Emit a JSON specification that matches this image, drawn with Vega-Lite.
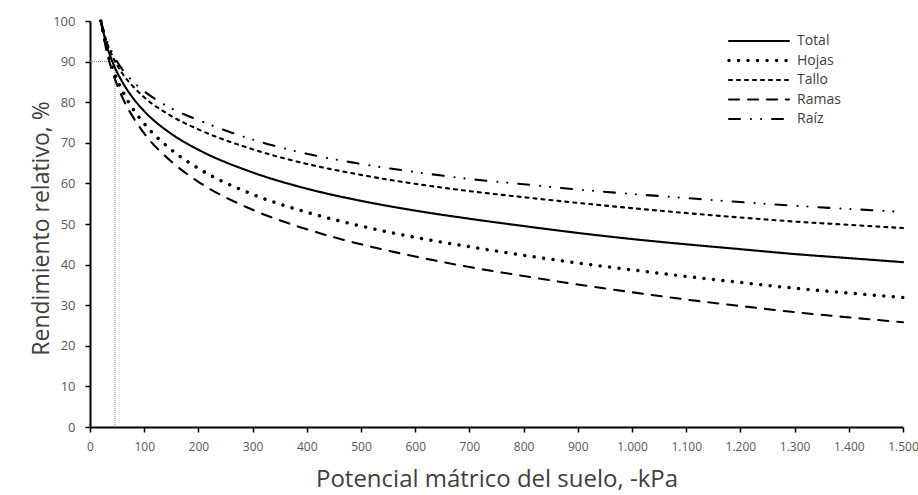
{
  "$schema": "https://vega.github.io/schema/vega-lite/v6.json",
  "width": 813,
  "height": 406,
  "autosize": {"type": "none"},
  "padding": {"left": 90, "top": 21, "right": 15, "bottom": 68},
  "background": "white",
  "config": {
    "view": {"stroke": null},
    "font": "Open Sans",
    "axis": {
      "grid": false,
      "domainColor": "black",
      "domainWidth": 2,
      "tickColor": "black",
      "tickWidth": 1.5,
      "tickSize": 5,
      "labelColor": "#595959",
      "labelFontSize": 13,
      "labelFont": "Open Sans",
      "titleColor": "#404040",
      "titleFont": "Open Sans",
      "titleFontWeight": "normal"
    }
  },
  "datasets": {
    "ref": [{"kPa": 46, "rend": 90, "kPa0": 0, "rend0": 0}],
    "curves": [
      {"serie": "Total", "kPa": 20, "rend": 100}, {"serie": "Total", "kPa": 30, "rend": 94.4}, {"serie": "Total", "kPa": 45, "rend": 88.8}, {"serie": "Total", "kPa": 60, "rend": 84.9}, {"serie": "Total", "kPa": 80, "rend": 80.9}, {"serie": "Total", "kPa": 100, "rend": 77.8}, {"serie": "Total", "kPa": 150, "rend": 72.2}, {"serie": "Total", "kPa": 200, "rend": 68.3}, {"serie": "Total", "kPa": 300, "rend": 62.7}, {"serie": "Total", "kPa": 400, "rend": 58.7}, {"serie": "Total", "kPa": 500, "rend": 55.7}, {"serie": "Total", "kPa": 600, "rend": 53.3}, {"serie": "Total", "kPa": 700, "rend": 51.3}, {"serie": "Total", "kPa": 800, "rend": 49.5}, {"serie": "Total", "kPa": 900, "rend": 47.8}, {"serie": "Total", "kPa": 1000, "rend": 46.3}, {"serie": "Total", "kPa": 1100, "rend": 45.0}, {"serie": "Total", "kPa": 1200, "rend": 43.8}, {"serie": "Total", "kPa": 1300, "rend": 42.6}, {"serie": "Total", "kPa": 1400, "rend": 41.6}, {"serie": "Total", "kPa": 1500, "rend": 40.6},
      {"serie": "Hojas", "kPa": 20, "rend": 100}, {"serie": "Hojas", "kPa": 30, "rend": 93.6}, {"serie": "Hojas", "kPa": 45, "rend": 87.2}, {"serie": "Hojas", "kPa": 60, "rend": 82.7}, {"serie": "Hojas", "kPa": 80, "rend": 78.2}, {"serie": "Hojas", "kPa": 100, "rend": 74.7}, {"serie": "Hojas", "kPa": 150, "rend": 68.3}, {"serie": "Hojas", "kPa": 200, "rend": 63.7}, {"serie": "Hojas", "kPa": 300, "rend": 57.3}, {"serie": "Hojas", "kPa": 400, "rend": 52.9}, {"serie": "Hojas", "kPa": 500, "rend": 49.5}, {"serie": "Hojas", "kPa": 600, "rend": 46.7}, {"serie": "Hojas", "kPa": 700, "rend": 44.4}, {"serie": "Hojas", "kPa": 800, "rend": 42.3}, {"serie": "Hojas", "kPa": 900, "rend": 40.4}, {"serie": "Hojas", "kPa": 1000, "rend": 38.7}, {"serie": "Hojas", "kPa": 1100, "rend": 37.1}, {"serie": "Hojas", "kPa": 1200, "rend": 35.6}, {"serie": "Hojas", "kPa": 1300, "rend": 34.2}, {"serie": "Hojas", "kPa": 1400, "rend": 33.0}, {"serie": "Hojas", "kPa": 1500, "rend": 31.9},
      {"serie": "Tallo", "kPa": 20, "rend": 100}, {"serie": "Tallo", "kPa": 30, "rend": 95.2}, {"serie": "Tallo", "kPa": 45, "rend": 90.4}, {"serie": "Tallo", "kPa": 60, "rend": 87.0}, {"serie": "Tallo", "kPa": 80, "rend": 83.8}, {"serie": "Tallo", "kPa": 100, "rend": 81.2}, {"serie": "Tallo", "kPa": 150, "rend": 76.6}, {"serie": "Tallo", "kPa": 200, "rend": 73.3}, {"serie": "Tallo", "kPa": 300, "rend": 68.4}, {"serie": "Tallo", "kPa": 400, "rend": 64.8}, {"serie": "Tallo", "kPa": 500, "rend": 62.1}, {"serie": "Tallo", "kPa": 600, "rend": 59.9}, {"serie": "Tallo", "kPa": 700, "rend": 58.1}, {"serie": "Tallo", "kPa": 800, "rend": 56.6}, {"serie": "Tallo", "kPa": 900, "rend": 55.2}, {"serie": "Tallo", "kPa": 1000, "rend": 53.9}, {"serie": "Tallo", "kPa": 1100, "rend": 52.7}, {"serie": "Tallo", "kPa": 1200, "rend": 51.6}, {"serie": "Tallo", "kPa": 1300, "rend": 50.6}, {"serie": "Tallo", "kPa": 1400, "rend": 49.8}, {"serie": "Tallo", "kPa": 1500, "rend": 49.0},
      {"serie": "Ramas", "kPa": 20, "rend": 100}, {"serie": "Ramas", "kPa": 30, "rend": 93.0}, {"serie": "Ramas", "kPa": 45, "rend": 86.1}, {"serie": "Ramas", "kPa": 60, "rend": 81.1}, {"serie": "Ramas", "kPa": 80, "rend": 76.2}, {"serie": "Ramas", "kPa": 100, "rend": 72.3}, {"serie": "Ramas", "kPa": 150, "rend": 65.4}, {"serie": "Ramas", "kPa": 200, "rend": 60.4}, {"serie": "Ramas", "kPa": 300, "rend": 53.5}, {"serie": "Ramas", "kPa": 400, "rend": 48.7}, {"serie": "Ramas", "kPa": 500, "rend": 45.0}, {"serie": "Ramas", "kPa": 600, "rend": 42.0}, {"serie": "Ramas", "kPa": 700, "rend": 39.4}, {"serie": "Ramas", "kPa": 800, "rend": 37.2}, {"serie": "Ramas", "kPa": 900, "rend": 35.1}, {"serie": "Ramas", "kPa": 1000, "rend": 33.2}, {"serie": "Ramas", "kPa": 1100, "rend": 31.4}, {"serie": "Ramas", "kPa": 1200, "rend": 29.8}, {"serie": "Ramas", "kPa": 1300, "rend": 28.3}, {"serie": "Ramas", "kPa": 1400, "rend": 27.0}, {"serie": "Ramas", "kPa": 1500, "rend": 25.8},
      {"serie": "Raíz", "kPa": 20, "rend": 100}, {"serie": "Raíz", "kPa": 30, "rend": 95.6}, {"serie": "Raíz", "kPa": 45, "rend": 91.2}, {"serie": "Raíz", "kPa": 60, "rend": 88.0}, {"serie": "Raíz", "kPa": 80, "rend": 85.0}, {"serie": "Raíz", "kPa": 100, "rend": 82.7}, {"serie": "Raíz", "kPa": 150, "rend": 78.5}, {"serie": "Raíz", "kPa": 200, "rend": 75.6}, {"serie": "Raíz", "kPa": 300, "rend": 70.8}, {"serie": "Raíz", "kPa": 400, "rend": 67.3}, {"serie": "Raíz", "kPa": 500, "rend": 64.8}, {"serie": "Raíz", "kPa": 600, "rend": 62.8}, {"serie": "Raíz", "kPa": 700, "rend": 61.1}, {"serie": "Raíz", "kPa": 800, "rend": 59.8}, {"serie": "Raíz", "kPa": 900, "rend": 58.5}, {"serie": "Raíz", "kPa": 1000, "rend": 57.4}, {"serie": "Raíz", "kPa": 1100, "rend": 56.4}, {"serie": "Raíz", "kPa": 1200, "rend": 55.4}, {"serie": "Raíz", "kPa": 1300, "rend": 54.5}, {"serie": "Raíz", "kPa": 1400, "rend": 53.7}, {"serie": "Raíz", "kPa": 1500, "rend": 53.0}
    ]
  },
  "layer": [
    {
      "data": {"name": "ref"},
      "mark": {"type": "rule", "color": "#7f7f7f", "strokeWidth": 1, "strokeDash": [1, 1]},
      "encoding": {
        "x": {"field": "kPa", "type": "quantitative"},
        "y": {"field": "rend0", "type": "quantitative"},
        "y2": {"field": "rend"}
      }
    },
    {
      "data": {"name": "ref"},
      "mark": {"type": "rule", "color": "#7f7f7f", "strokeWidth": 1, "strokeDash": [1, 1]},
      "encoding": {
        "y": {"field": "rend", "type": "quantitative"},
        "x": {"field": "kPa0", "type": "quantitative"},
        "x2": {"field": "kPa"}
      }
    },
    {
      "data": {"name": "curves"},
      "mark": {"type": "line", "interpolate": "monotone", "strokeCap": "round", "color": "black"},
      "encoding": {
        "x": {
          "field": "kPa", "type": "quantitative",
          "scale": {"domain": [0, 1500], "nice": false},
          "axis": {
            "title": "Potencial mátrico del suelo, -kPa",
            "titleFontSize": 24,
            "titleBaseline": "alphabetic",
            "titleY": 59,
            "values": [0, 100, 200, 300, 400, 500, 600, 700, 800, 900, 1000, 1100, 1200, 1300, 1400, 1500],
            "labelExpr": "replace(format(datum.value, ','), ',', '.')",
            "labelFontSize": 12,
            "labelPadding": 9,
            "labelFlush": false
          }
        },
        "y": {
          "field": "rend", "type": "quantitative",
          "scale": {"domain": [0, 100], "nice": false},
          "axis": {
            "title": "Rendimiento relativo, %",
            "titleFontSize": 23,
            "titleX": -42,
            "titleY": 207,
            "titleBaseline": "alphabetic",
            "values": [0, 10, 20, 30, 40, 50, 60, 70, 80, 90, 100],
            "tickSize": 5,
            "labelPadding": 10
          }
        },
        "strokeWidth": {
          "condition": {"test": "datum.serie === 'Hojas'", "value": 3.5},
          "value": 2.1
        },
        "strokeDash": {
          "field": "serie", "type": "nominal",
          "scale": {
            "domain": ["Total", "Hojas", "Tallo", "Ramas", "Raíz"],
            "range": [[1, 0], [0.01, 9.5], [3, 5], [10, 9], [11, 11, 0.01, 10, 0.01, 11]]
          },
          "legend": {
            "title": null, "orient": "none", "legendX": 662, "legendY": 13,
            "symbolType": "M-6,0H6", "symbolSize": 100, "symbolStrokeColor": "black",
            "labelFontSize": 14, "labelColor": "#404040", "labelFont": "Open Sans",
            "rowPadding": 5.5, "labelOffset": 31, "padding": 0,
            "encode": {
              "symbols": {
                "update": {
                  "strokeCap": {"value": "round"},
                  "strokeWidth": {"signal": "datum.value === 'Hojas' ? 3.5 : 2.1"}
                }
              }
            }
          }
        }
      }
    }
  ]
}
